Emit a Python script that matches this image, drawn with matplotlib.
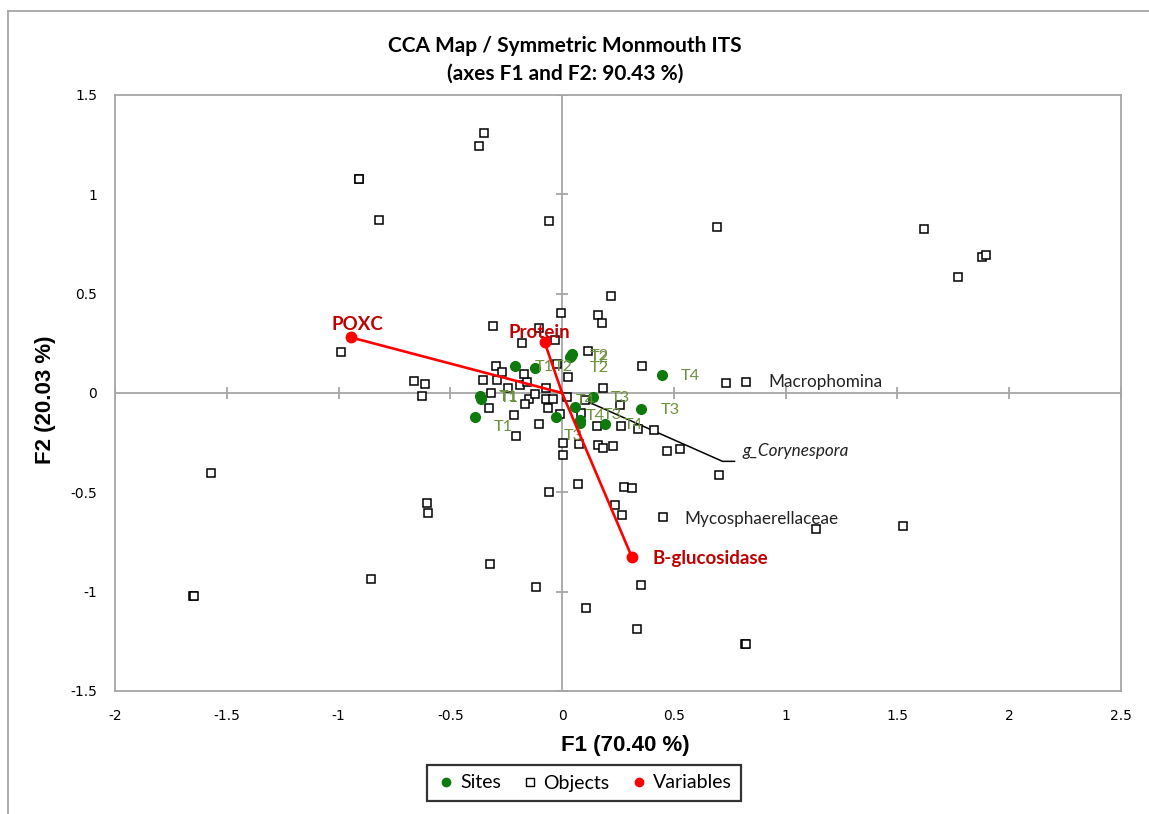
import numpy as np
import matplotlib.pyplot as plt
from matplotlib.lines import Line2D
from matplotlib.ticker import FuncFormatter

# objects (squares)
obj_f1 = [-0.348, -0.372, -0.909, -0.907, -0.820, -0.057, 0.218, 0.692, 1.620, 1.878,
          1.897, 1.769, 0.735, 0.824, 0.358, -1.571, -0.605, -0.602, -0.321, -0.856,
          -1.650, -1.648, 1.137, 1.525, -0.115, 0.351, 0.109, 0.334, 0.820, 0.822,
          0.701, -0.059, 0.069, 0.279, 0.314, 0.236, 0.267, 0.452, 0.468, 0.528,
          0.004, 0.004, 0.074, 0.162, 0.184, 0.227, 0.157, 0.263, 0.339, 0.410,
          -0.208, -0.102, -0.010, 0.084, 0.260, 0.182, 0.020, -0.071, -0.041, -0.148,
          -0.168, -0.063, -0.325, -0.214, -0.319, -0.122, -0.074, -0.242, -0.190, -0.157,
          -0.172, -0.352, -0.290, -0.296, -0.270, -0.662, -0.614, -0.625, 0.026, -0.021,
          0.115, -0.180, -0.034, -0.311, -0.104, -0.007, 0.160, 0.178, 0.101, -0.989]
obj_f2 = [1.307, 1.241, 1.077, 1.079, 0.873, 0.864, 0.487, 0.837, 0.825, 0.684,
          0.693, 0.586, 0.052, 0.057, 0.136, -0.401, -0.552, -0.605, -0.859, -0.934,
          -1.022, -1.020, -0.687, -0.669, -0.976, -0.968, -1.083, -1.189, -1.263, -1.261,
          -0.413, -0.498, -0.456, -0.475, -0.480, -0.565, -0.615, -0.624, -0.290, -0.282,
          -0.250, -0.314, -0.255, -0.260, -0.275, -0.267, -0.166, -0.168, -0.179, -0.186,
          -0.216, -0.154, -0.106, -0.101, -0.058, 0.027, -0.020, -0.032, -0.032, -0.032,
          -0.053, -0.073, -0.073, -0.112, 0.002, -0.003, 0.027, 0.025, 0.042, 0.055,
          0.094, 0.064, 0.064, 0.136, 0.106, 0.060, 0.044, -0.015, 0.083, 0.144,
          0.210, 0.254, 0.265, 0.336, 0.327, 0.405, 0.391, 0.352, -0.037, 0.205]

# named objects: index into the lists above
named_obj = ['Macrophomina', 'g_Corynespora', 'Mycosphaerellaceae']
named_idx = [13, 88, 37]

# sites
site_labels = ['T1', 'T1', 'T1', 'T1', 'T2', 'T2', 'T2', 'T2',
               'T3', 'T3', 'T3', 'T3', 'T4', 'T4', 'T4', 'T4']
site_f1 = [-0.212, -0.369, -0.364, -0.391, -0.123, 0.042, 0.034, 0.038,
           0.136, 0.355, 0.078, -0.029, 0.445, 0.056, 0.078, 0.194]
site_f2 = [0.134, -0.017, -0.032, -0.123, 0.124, 0.195, 0.180, 0.185,
           -0.022, -0.082, -0.137, -0.122, 0.089, -0.072, -0.152, -0.157]
# label offsets in pixels
site_dx = [30, 29, 29, 29, 29, 28, 30, 29, 28, 29, 33, 18, 29, 11, 16, 28]
site_dy = [-1, -1, 1, -10, 1, -2, -1, -12, -1, -1, 5, -19, -1, 6, 7, -1]

# variables
var_names = ['POXC', 'Protein', 'B-glucosidase']
var_f1 = [-0.945, -0.078, 0.313]
var_f2 = [0.280, 0.255, -0.828]

gray = '#A6A6A6'
site_green = '#0E7A0E'
label_green = '#6E913F'

fig = plt.figure(figsize=(11.49, 8.14), dpi=100)
ax = fig.add_axes([115 / 1149, 1 - 691 / 814, (1121 - 115) / 1149, (691 - 95) / 814])
ax.set_xlim(-2, 2.5)
ax.set_ylim(-1.5, 1.5)
xt = np.arange(-2, 2.51, 0.5)
yt = np.arange(-1.5, 1.51, 0.5)
ax.set_xticks(xt)
ax.set_yticks(yt)
fmt = FuncFormatter(lambda v, p: f'{v:g}')
ax.xaxis.set_major_formatter(fmt)
ax.yaxis.set_major_formatter(fmt)
ax.tick_params(length=0, pad=13, labelsize=10)
for s in ax.spines.values():
    s.set_color(gray)
    s.set_linewidth(1.3)

ax.axhline(0, color=gray, lw=1.3, zorder=1)
ax.axvline(0, color=gray, lw=1.3, zorder=1)
ax.plot(xt, np.zeros_like(xt), ls='none', marker='|', ms=8, mew=1.3, color=gray, zorder=1)
ax.plot(np.zeros_like(yt), yt, ls='none', marker='_', ms=8, mew=1.3, color=gray, zorder=1)

# objects
ax.plot(obj_f1, obj_f2, ls='none', marker='s', ms=6.3, mfc='white', mec='black',
        mew=1.1, zorder=3)

lab_font = 'Lato'
# object labels
ax.annotate(named_obj[0], (obj_f1[named_idx[0]], obj_f2[named_idx[0]]), xytext=(22, 0),
            textcoords='offset pixels', ha='left', va='center', fontsize=12.3,
            family=lab_font, color='#222222', zorder=6)
ax.annotate(named_obj[2], (obj_f1[named_idx[2]], obj_f2[named_idx[2]]), xytext=(21, -2),
            textcoords='offset pixels', ha='left', va='center', fontsize=12.3,
            family=lab_font, color='#222222', zorder=6)
# leader line for g_Corynespora
cx, cy = obj_f1[named_idx[1]], obj_f2[named_idx[1]]
ex, ey = cx + 138 / 223.8, cy - 61 / 198.7
ax.plot([cx, ex, ex + 12 / 223.8], [cy, ey, ey], color='black', lw=1.1, zorder=2)
ax.annotate(named_obj[1], (cx, cy), xytext=(158, -51), textcoords='offset pixels',
            ha='left', va='center', fontsize=12.3, style='italic',
            family=lab_font, color='#222222', zorder=6)

# sites
ax.plot(site_f1, site_f2, ls='none', marker='o', ms=7, color=site_green, zorder=4)
for x, y, t, dx, dy in zip(site_f1, site_f2, site_labels, site_dx, site_dy):
    ax.annotate(t, (x, y), xytext=(dx, dy), textcoords='offset pixels', ha='center',
                va='center', fontsize=11.8, family=lab_font, color=label_green, zorder=5)

# variables
for x, y in zip(var_f1, var_f2):
    ax.plot([0, x], [0, y], color='#FF0000', lw=1.9, zorder=5)
ax.plot(var_f1, var_f2, ls='none', marker='o', ms=7.5, color='#FF0000', zorder=6)
var_off = [(7, 13, 'center'), (-5, 10, 'center'), (20, -1, 'left')]
for x, y, n, (dx, dy, ha) in zip(var_f1, var_f2, var_names, var_off):
    ax.annotate(n, (x, y), xytext=(dx, dy), textcoords='offset pixels', ha=ha,
                va='center', fontsize=13.5, fontweight='bold', family=lab_font,
                color='#C00000', zorder=7)

# titles and axis labels
fig.text(565 / 1149, 1 - 60 / 814, 'CCA Map / Symmetric Monmouth ITS\n(axes F1 and F2: 90.43 %)',
         ha='center', va='center', fontsize=15, fontweight='bold', family=lab_font,
         linespacing=1.45)
fig.text(625 / 1149, 1 - 746 / 814, 'F1 (70.40 %)', ha='center', va='center',
         fontsize=16, fontweight='bold', family='Liberation Sans')
fig.text(46 / 1149, 1 - 400 / 814, 'F2 (20.03 %)', ha='center', va='center',
         rotation=90, fontsize=16, fontweight='bold', family='Liberation Sans')

# legend
handles = [Line2D([], [], ls='none', marker='o', ms=6, color=site_green),
           Line2D([], [], ls='none', marker='s', ms=6, mfc='white', mec='black', mew=1),
           Line2D([], [], ls='none', marker='o', ms=6, color='#FF0000')]
leg = fig.legend(handles, ['Sites', 'Objects', 'Variables'], loc='center',
                 bbox_to_anchor=(584 / 1149, 1 - 783 / 814), ncol=3, frameon=True,
                 fancybox=False, prop={'family': lab_font, 'size': 14},
                 handletextpad=0.2, columnspacing=1.0, handlelength=1.0,
                 borderpad=0.5)
leg.get_frame().set_edgecolor('black')
leg.get_frame().set_linewidth(1.6)

# outer chart frame
fig.add_artist(Line2D([8 / 1149, 8 / 1149], [1 - 10.7 / 814, 0], transform=fig.transFigure,
                      color=gray, lw=1.3))
fig.add_artist(Line2D([8 / 1149, 1], [1 - 10.7 / 814, 1 - 10.7 / 814],
                      transform=fig.transFigure, color=gray, lw=1.3))

fig.savefig('out.png', dpi=100)
